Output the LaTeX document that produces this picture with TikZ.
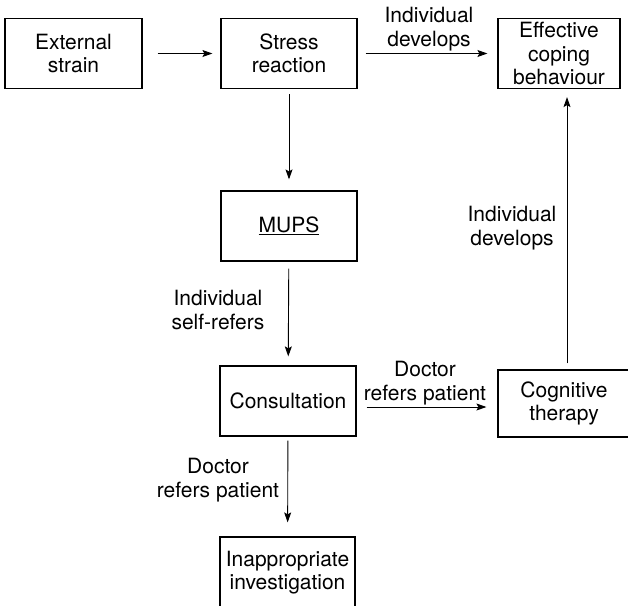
\documentclass[tikz,border=0pt]{standalone}
\usepackage{fontspec}
\setmainfont{TeX Gyre Heros}
\usetikzlibrary{arrows.meta}
\begin{document}
\begin{tikzpicture}[x=1pt,y=-1pt,
  every node/.style={font=\fontsize{21}{23.5}\selectfont, align=center, inner sep=0pt},
  box/.style={draw, line width=1.2pt, minimum width=#1, minimum height=70pt},
  lbl/.style={},
  arr/.style={line width=0.9pt, -{Stealth[length=10pt,width=7pt,inset=2pt]}}]
  \useasboundingbox (0,0) rectangle (628,605);
  % boxes
  \node[box=137pt] (ext)    at (73.5,53.5) {External\\strain};
  \node[box=136pt] (stress) at (289,53.5)  {Stress\\reaction};
  \node[box=122pt] (eff)    at (559,53.5)  {Effective\\coping\\behaviour};
  \node[box=136pt] (mups)   at (289,226)   {\underline{MUPS}};
  \node[box=136pt] (cons)   at (288,401)   {Consultation};
  \node[box=135pt, minimum height=71pt] (inapp) at (287.5,572.5) {Inappropriate\\investigation};
  \node[box=132pt, minimum height=67pt] (cog) at (564,403.5) {Cognitive\\therapy};
  % connector labels
  \node[lbl] (l1) at (429,29)  {Individual\\develops};
  \node[lbl] (l2) at (512,228) {Individual\\develops};
  \node[lbl] (l3) at (218,310) {Individual\\self-refers};
  \node[lbl] (l4) at (425,383) {Doctor\\refers patient};
  \node[lbl] (l5) at (218,480) {Doctor\\refers patient};
  % connectors
  \draw[arr, shorten <=15pt, shorten >=8pt] (ext) -- (stress);
  \draw[arr, shorten <=8pt, shorten >=10pt] (stress) -- (eff);
  \draw[arr, shorten <=5pt, shorten >=11pt] (stress) -- (mups);
  \draw[arr, shorten <=7pt, shorten >=9pt] (mups) -- (cons);
  \draw[arr, shorten <=4pt, shorten >=14pt] (cons) -- (inapp);
  \draw[arr, shorten <=10pt, shorten >=11pt] ([yshift=-6pt]cons.east) -- ([yshift=-6pt]cons.east -| cog.west);
  \draw[arr, shorten <=6pt, shorten >=8pt] ([xshift=3pt]cog.north) -- ([xshift=3pt]cog.north |- eff.south);
\end{tikzpicture}
\end{document}
